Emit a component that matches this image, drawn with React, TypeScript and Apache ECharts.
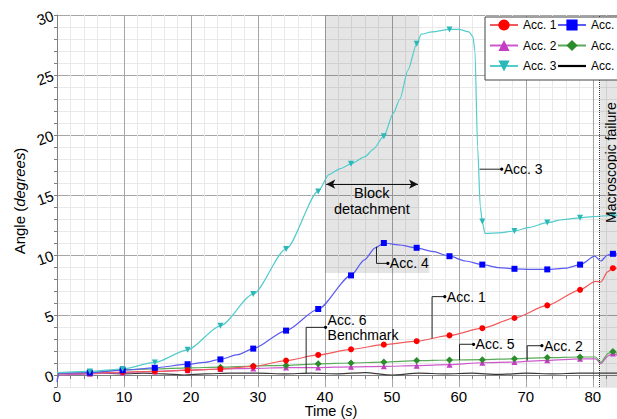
import React, { useEffect, useRef } from 'react';
import * as echarts from 'echarts';

const FONT = '"Liberation Sans", Arial, Helvetica, sans-serif';

const MARKER_TIMES = [4.9, 9.8, 14.6, 19.5, 24.4, 29.3, 34.2, 39.0, 43.9, 48.8, 53.7, 58.6, 63.5, 68.3, 73.2, 78.1, 83.0];

const ACC1_T = [0, 4.9, 9.8, 14.6, 19.5, 24.4, 29.3, 34.2, 39.0, 43.9, 48.8, 53.7, 58.6, 63.5, 68.3, 73.2, 78.1, 80.4, 81.2, 82.2, 83.0, 86];
const ACC1_V = [0.1, 0.15, 0.25, 0.3, 0.4, 0.5, 0.72, 1.2, 1.67, 2.14, 2.53, 2.82, 3.3, 3.9, 4.75, 5.8, 7.1, 7.8, 7.75, 8.6, 8.9, 8.85];

const ACC2_T = [0, 0.3, 4.9, 9.8, 14.6, 19.5, 24.4, 29.3, 34.2, 39.0, 43.9, 48.8, 53.7, 58.6, 63.5, 68.3, 73.2, 78.1, 80.4, 81.2, 82.3, 83.0, 84.5, 86];
const ACC2_V = [-0.4, 0.0, 0.1, 0.2, 0.3, 0.4, 0.5, 0.55, 0.62, 0.62, 0.68, 0.72, 0.78, 0.86, 1.02, 1.08, 1.22, 1.35, 1.35, 0.95, 1.6, 1.8, 1.4, 1.3];

const ACC3_T = [0, 4.9, 9.8, 14.6, 19.5, 24.4, 29.3, 34.2, 39.0, 40.6, 42.3, 43.9, 46.0, 47.2, 48.8, 50.2, 51.2, 52.4, 53.7, 54.4, 56.0, 58.6, 60.0, 61.5, 62.1, 62.4, 62.8, 63.2, 63.5, 63.9, 66.0, 68.3, 70.5, 73.2, 75.5, 78.1, 80.0, 83.0, 86];
const ACC3_V = [0.2, 0.3, 0.5, 1.05, 2.1, 4.1, 6.75, 10.5, 15.3, 16.7, 17.2, 17.6, 18.2, 18.8, 19.9, 21.8, 23.0, 25.4, 27.6, 28.4, 28.6, 28.8, 28.8, 28.6, 28.2, 27.0, 19.0, 14.0, 12.8, 11.8, 11.85, 12.0, 12.3, 12.7, 12.95, 13.1, 13.2, 13.3, 13.4];

const ACC4_T = [0, 0.3, 4.9, 9.8, 14.6, 19.5, 22.0, 24.4, 27.0, 29.3, 34.2, 39.0, 43.9, 45.9, 47.5, 48.8, 51.0, 53.7, 56.0, 58.6, 61.0, 63.5, 66.0, 68.3, 71.0, 73.2, 76.0, 78.1, 80.3, 81.2, 82.2, 83.0, 86];
const ACC4_V = [-0.6, 0.15, 0.2, 0.4, 0.6, 0.9, 1.05, 1.3, 1.7, 2.2, 3.7, 5.5, 8.3, 9.6, 10.6, 11.0, 10.85, 10.6, 10.3, 9.9, 9.5, 9.2, 8.95, 8.85, 8.8, 8.8, 8.9, 9.2, 9.9, 9.5, 10.0, 10.1, 10.0];

const ACC5_T = [0, 4.9, 9.8, 14.6, 19.5, 24.4, 29.3, 34.2, 39.0, 43.9, 48.8, 53.7, 58.6, 63.5, 68.3, 73.2, 78.1, 80.4, 81.2, 82.3, 83.0, 84.5, 86];
const ACC5_V = [0.1, 0.2, 0.45, 0.5, 0.6, 0.65, 0.75, 0.8, 0.93, 1.0, 1.08, 1.2, 1.25, 1.28, 1.35, 1.45, 1.5, 1.5, 1.05, 1.8, 1.95, 1.6, 1.5];

const ACC6_T = [0, 3, 6, 10, 13, 16, 19, 22, 26, 30, 34, 38, 42, 46, 50, 54, 58, 62, 66, 70, 74, 78, 82, 86];
const ACC6_V = [0.15, 0.1, 0.15, 0.1, 0.15, 0.1, 0.0, 0.1, 0.15, 0.15, 0.1, 0.15, 0.1, 0.2, 0.0, 0.15, 0.1, 0.15, 0.05, 0.15, 0.1, 0.15, 0.15, 0.15];

const SERIES_NAMES = ['Acc. 1', 'Acc. 2', 'Acc. 3', 'Acc. 4', 'Acc. 5', 'Acc. 6'];

const CALLOUTS = [
  { text: 'Acc. 3', path: [[63.1, 17.15], [66.4, 17.15]] },
  { text: 'Acc. 4', path: [[47.7, 10.7], [47.7, 9.3], [49.4, 9.3]] },
  { text: 'Acc. 1', path: [[56.0, 3.05], [56.0, 6.53], [57.9, 6.53]] },
  { text: 'Acc. 5', path: [[60.1, 1.25], [60.1, 2.56], [62.2, 2.56]] },
  { text: 'Acc. 2', path: [[70.2, 1.2], [70.2, 2.44], [72.4, 2.44]] },
  { text: 'Acc. 6\nBenchmark', path: [[37.2, 0.15], [37.2, 3.97], [40.1, 3.97]] },
];

const X_MIN = 0, X_MAX = 86, Y_MIN = -1, Y_MAX = 30;

const mk = (t: number[], v: number[]) =>
  t.map((ti, i) => (MARKER_TIMES.includes(ti) ? [ti, v[i]] : { value: [ti, v[i]], symbol: 'none' }));

const MAJOR = '#a6a6a6';
const MINOR = '#e9e9e9';

function buildOption(): any {
  const base = {
    type: 'line',
    smooth: 0.25,
    smoothMonotone: 'x',
    showAllSymbol: true,
    clip: false,
    symbolSize: 6,
  };
  const legendCommon = {
    orient: 'vertical', top: 19, padding: 0,
    itemWidth: 28, itemHeight: 14, itemGap: 8.5,
    lineStyle: { width: 2 },
    textStyle: { fontSize: 12, color: '#000', fontFamily: FONT },
    selectedMode: false, z: 6,
  };
  return {
    animation: false,
    backgroundColor: '#fff',
    textStyle: { fontFamily: FONT },
    grid: { left: 57, top: 15, width: 576, height: 372, containLabel: false, outerBoundsMode: 'none' },
    xAxis: {
      type: 'value',
      min: X_MIN,
      max: X_MAX,
      interval: 2,
      name: 'Time ({i|s})',
      nameLocation: 'middle',
      nameGap: 17,
      nameMoveOverlap: false,
      nameTextStyle: { fontSize: 14.5, lineHeight: 14, color: '#000', fontFamily: FONT, padding: [0, 28, 0, 0], rich: { i: { fontStyle: 'italic', fontSize: 14.5, lineHeight: 14, fontFamily: FONT, color: '#000' } } },
      axisLine: { show: true, lineStyle: { color: '#808080', width: 1 } },
      axisTick: { show: true, length: 4, lineStyle: { color: '#808080' } },
      axisLabel: {
        fontSize: 15, lineHeight: 14, color: '#000', margin: 2, fontFamily: FONT,
        formatter: (v: number) => (Math.round(v) % 10 === 0 ? String(Math.round(v)) : ''),
      },
      splitLine: { show: true, lineStyle: { color: [MAJOR, MINOR, MINOR, MINOR, MINOR], width: 1 } },
    },
    yAxis: {
      type: 'value',
      min: Y_MIN,
      max: Y_MAX,
      interval: 1,
      name: 'Angle ({i|degrees})',
      nameLocation: 'middle',
      nameGap: 30,
      nameRotate: 90,
      nameMoveOverlap: false,
      nameTextStyle: { fontSize: 15, color: '#000', fontFamily: FONT, rich: { i: { fontStyle: 'italic', fontSize: 15, fontFamily: FONT, color: '#000' } } },
      axisLine: { show: true, lineStyle: { color: '#808080', width: 1 } },
      axisTick: { show: true, length: 3, lineStyle: { color: '#808080' } },
      axisLabel: {
        fontSize: 15, color: '#000', margin: 4, rotate: 20, fontFamily: FONT,
        formatter: (v: number) => (Math.round(v) % 5 === 0 && v >= 0 ? String(Math.round(v)) : ''),
      },
      splitLine: { show: true, lineStyle: { color: [MINOR, MAJOR, MINOR, MINOR, MINOR], width: 1 } },
    },
    legend: [
      { ...legendCommon, left: 489, data: ['Acc. 1', 'Acc. 2', 'Acc. 3'] },
      {
        ...legendCommon, left: 557,
        data: ['Acc. 4', 'Acc. 5', { name: 'Acc. 6', icon: 'path://M0,0 L28,0 L28,2.2 L0,2.2 Z' }],
      },
    ],
    series: [
      {
        ...base, name: SERIES_NAMES[5], data: mk(ACC6_T, ACC6_V), symbol: 'none', z: 1,
        lineStyle: { color: '#3a3a3a', width: 1.2 }, itemStyle: { color: '#000' },
        markArea: {
          silent: true,
          itemStyle: { color: 'rgba(0,0,0,0.1)' },
          data: [
            [{ coord: [40, 8.5] }, { coord: [54.1, 30] }],
            [{ coord: [54.1, 8.5] }, { coord: [55.6, 10] }],
            [{ xAxis: 81.1 }, { xAxis: 86 }],
          ],
        },
        markLine: {
          silent: true,
          symbol: ['none', 'none'],
          label: { show: false },
          data: [
            { xAxis: 81, lineStyle: { type: 'dotted', color: '#333', width: 1 } },
            [
              { coord: [40.2, 15.9], symbol: 'arrow', symbolSize: [7, 9], lineStyle: { type: 'solid', color: '#111', width: 1 } },
              { coord: [53.9, 15.9], symbol: 'arrow', symbolSize: [7, 9] },
            ],
          ],
        },
      },
      {
        ...base, name: SERIES_NAMES[1], data: mk(ACC2_T, ACC2_V), symbol: 'triangle', z: 2,
        lineStyle: { color: '#cc5acc', width: 1.2 }, itemStyle: { color: '#c23ec2' },
      },
      {
        ...base, name: SERIES_NAMES[4], data: mk(ACC5_T, ACC5_V), symbol: 'diamond', symbolSize: 7, z: 2,
        lineStyle: { color: '#5aaa5a', width: 1.2 }, itemStyle: { color: '#2c8c2c' },
      },
      {
        ...base, name: SERIES_NAMES[0], data: mk(ACC1_T, ACC1_V), symbol: 'circle', z: 2,
        lineStyle: { color: '#f05a5a', width: 1.2 }, itemStyle: { color: '#ff0000' },
      },
      {
        ...base, name: SERIES_NAMES[3], data: mk(ACC4_T, ACC4_V), symbol: 'rect', z: 2,
        lineStyle: { color: '#5b5bf0', width: 1.2 }, itemStyle: { color: '#0000ff' },
      },
      {
        ...base, name: SERIES_NAMES[2], data: mk(ACC3_T, ACC3_V), symbol: 'path://M0,0 L10,0 L5,9 Z', z: 2,
        lineStyle: { color: '#52cccc', width: 1.2 }, itemStyle: { color: '#2ab8b8' },
      },
    ],
  };
}

export default function App() {
  const ref = useRef<HTMLDivElement>(null);
  useEffect(() => {
    const chart = echarts.init(ref.current!, null, { renderer: 'svg' });
    chart.setOption(buildOption());
    const px = (p: number[]) => chart.convertToPixel({ gridIndex: 0 }, p) as number[];
    const g: any[] = [];
    g.push({
      type: 'rect', z: 5,
      shape: { x: 485, y: 17, width: 230, height: 63 },
      style: { fill: '#fff', stroke: '#444', lineWidth: 1 },
    });
    CALLOUTS.forEach((c) => {
      const pts = c.path.map(px);
      const end = pts[pts.length - 1];
      g.push({ type: 'polyline', z: 7, shape: { points: pts }, style: { stroke: '#222', lineWidth: 1, fill: null } });
      g.push({ type: 'circle', z: 7, shape: { cx: end[0], cy: end[1], r: 1.6 }, style: { fill: '#000' } });
      g.push({
        type: 'text', z: 7, x: end[0] + 2, y: end[1],
        style: { text: c.text, fontSize: 14, fontFamily: FONT, fill: '#000', align: 'left', verticalAlign: 'middle', lineHeight: 15 },
      });
    });
    const bd = px([47.0, 14.5]);
    g.push({
      type: 'text', z: 7, x: bd[0], y: bd[1],
      style: { text: 'Block\ndetachment', fontSize: 14.5, fontFamily: FONT, fill: '#000', align: 'center', verticalAlign: 'middle', lineHeight: 15.5 },
    });
    const mf = px([82.75, 17.7]);
    g.push({
      type: 'text', z: 7, x: mf[0], y: mf[1], rotation: Math.PI / 2,
      style: { text: 'Macroscopic failure', fontSize: 14, fontFamily: FONT, fill: '#000', align: 'center', verticalAlign: 'middle' },
    });
    chart.setOption({ graphic: g });
    return () => chart.dispose();
  }, []);
  return (
    <div style={{ position: 'fixed', left: 0, top: 0, width: 617, height: 419, overflow: 'hidden', background: '#fff' }}>
      <div ref={ref} style={{ width: 720, height: 419 }} />
    </div>
  );
}
